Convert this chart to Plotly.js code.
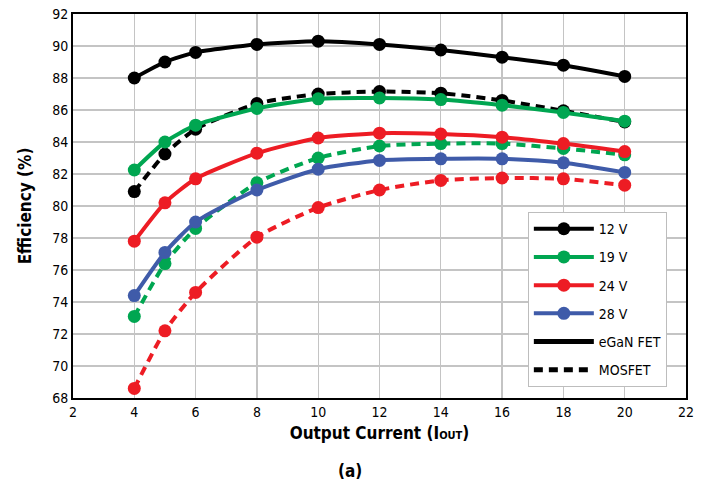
<!DOCTYPE html>
<html><head><meta charset="utf-8">
<script src="https://cdn.plot.ly/plotly-3.0.1.min.js"></script>
<style>html,body{margin:0;padding:0;background:#fff}#chart{width:701px;height:483px}</style>
</head><body><div id="chart"></div>
<script>
const current = [4, 5, 6, 8, 10, 12, 14, 16, 18, 20];
const egan12 = [88.0, 89.0, 89.6, 90.1, 90.3, 90.1, 89.75, 89.3, 88.8, 88.1];
const egan19 = [82.25, 84.0, 85.05, 86.1, 86.7, 86.75, 86.65, 86.3, 85.85, 85.3];
const egan24 = [77.8, 80.2, 81.7, 83.3, 84.25, 84.55, 84.5, 84.3, 83.9, 83.4];
const egan28 = [74.4, 77.1, 79.0, 81.0, 82.3, 82.85, 82.95, 82.95, 82.7, 82.1];
const mos12 = [80.9, 83.25, 84.8, 86.4, 87.0, 87.15, 87.05, 86.6, 85.95, 85.25];
const mos19 = [73.1, 76.4, 78.6, 81.45, 83.0, 83.75, 83.9, 83.9, 83.6, 83.2];
const mos24 = [68.6, 72.2, 74.6, 78.05, 79.9, 81.0, 81.6, 81.75, 81.7, 81.3];
const seriesNames = ["12 V", "19 V", "24 V", "28 V"];
const typeNames = ["eGaN FET", "MOSFET"];
const colors = ["#000000", "#00a651", "#ed1c24", "#3f5ba9"];

const FONT = '"DejaVu Sans Condensed", "Liberation Sans Narrow", "Liberation Sans", sans-serif';
const eganSets = [egan12, egan19, egan24, egan28];
const mosSets = [mos12, mos19, mos24];
const traces = [];
mosSets.forEach((ys, i) => {
  traces.push({x: current, y: ys, type: 'scatter', mode: 'lines+markers', showlegend: false,
    line: {color: colors[i], width: 4, dash: '9px,6px', shape: 'spline', smoothing: 0.6},
    marker: {color: colors[i], size: 13}});
});
eganSets.forEach((ys, i) => {
  traces.push({x: current, y: ys, type: 'scatter', mode: 'lines+markers', name: seriesNames[i],
    legendgroup: 'g' + i,
    line: {color: colors[i], width: 4, shape: 'spline', smoothing: 0.6},
    marker: {color: colors[i], size: 13}});
});
traces.push({x: [null], y: [null], type: 'scatter', mode: 'lines', name: typeNames[0],
  legendgroup: 'gE', line: {color: '#000', width: 5}});
traces.push({x: [null], y: [null], type: 'scatter', mode: 'lines', name: typeNames[1],
  legendgroup: 'gM', line: {color: '#000', width: 5, dash: '9px,6px'}});

const layout = {
  width: 701, height: 483,
  margin: {l: 73, r: 15, t: 14, b: 85},
  paper_bgcolor: '#fff', plot_bgcolor: '#fff',
  font: {family: FONT, size: 14, color: '#000'},
  xaxis: {range: [2, 22], dtick: 2, tick0: 2, showgrid: true, gridcolor: '#c4c4c4', gridwidth: 1.3,
    showline: true, linecolor: '#000', linewidth: 2, mirror: true, zeroline: false, ticks: '',
    tickfont: {family: FONT, size: 14},
    title: {text: '<b>Output Current (I<span style="font-size:11px">OUT</span>)</b>', font: {family: FONT, size: 17}, standoff: 8}},
  yaxis: {range: [68, 92], dtick: 2, showgrid: true, gridcolor: '#c4c4c4', gridwidth: 1.3,
    showline: true, linecolor: '#000', linewidth: 2, mirror: true, zeroline: false, ticks: '',
    tickfont: {family: FONT, size: 14},
    title: {text: '<b>Efficiency (%)</b>', font: {family: FONT, size: 17}, standoff: 16}},
  legend: {x: 0.742, y: 0.484, xanchor: 'left', yanchor: 'top', bgcolor: '#fff',
    bordercolor: '#bdbdbd', borderwidth: 1, font: {family: FONT, size: 14},
    itemwidth: 60, tracegroupgap: 7},
  annotations: [{text: '<b>(a)</b>', xref: 'paper', yref: 'paper', x: 0.452, y: -0.19,
    showarrow: false, font: {family: FONT, size: 17}, xanchor: 'center', yanchor: 'middle'}]
};
Plotly.newPlot('chart', traces, layout, {displayModeBar: false, staticPlot: true});
</script></body></html>
